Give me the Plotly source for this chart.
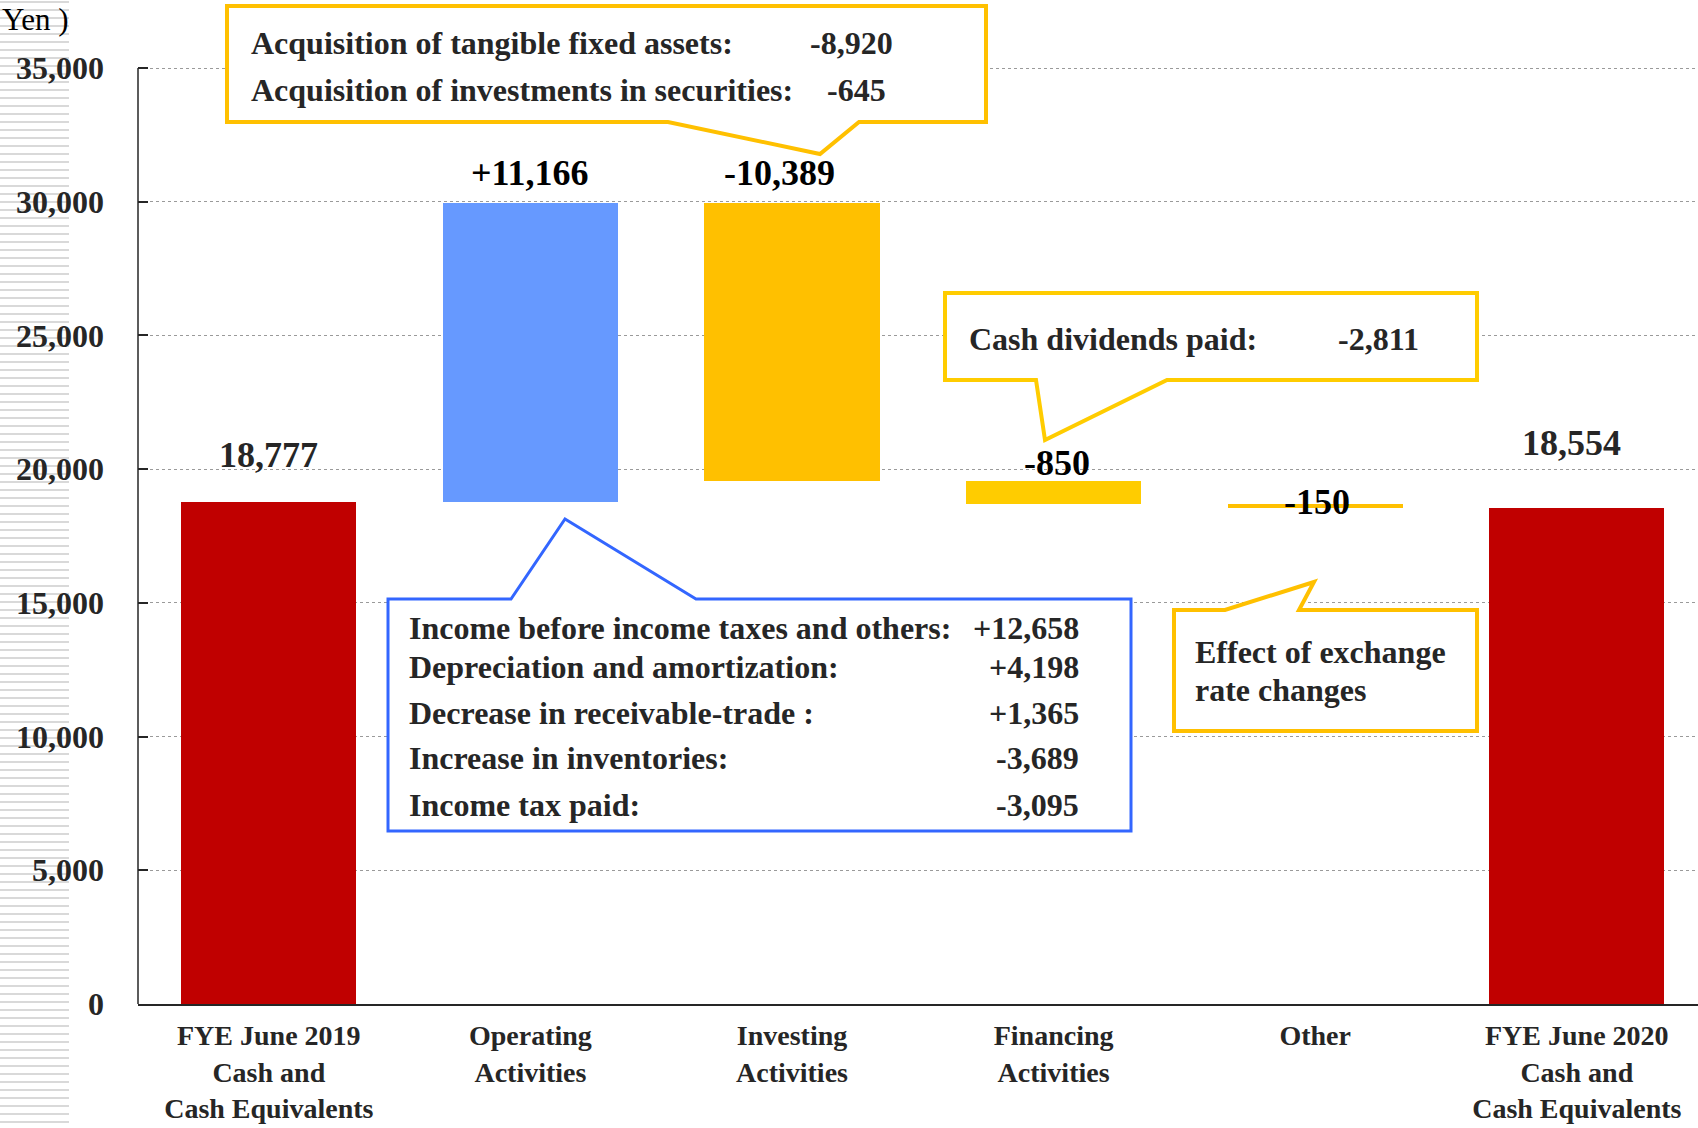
import numpy as np
import plotly.graph_objects as go

# ---------------- data ----------------
categories = ["FYE June 2019<br>Cash and<br>Cash Equivalents",
              "Operating<br>Activities",
              "Investing<br>Activities",
              "Financing<br>Activities",
              "Other",
              "FYE June 2020<br>Cash and<br>Cash Equivalents"]
start_balance = 18777
changes = [11166, -10389, -850, -150]
end_balance = 18554
value_labels = ["18,777", "+11,166", "-10,389", "-850", "-150", "18,554"]
bar_colors = ["#C00000", "#6699FF", "#FFC000", "#FFCC00", "#FFC000", "#C00000"]
label_colors = ["#262626", "#000000", "#000000", "#000000", "#000000", "#262626"]
# label offsets (px) relative to bar top
label_dx = [0, 0, -13, 3, 2, -5]
label_dy = [47, 30, 30, 18, 2, 65]

y_ticks = [0, 5000, 10000, 15000, 20000, 25000, 30000, 35000]
y_ticktext = ["0", "5,000", "10,000", "15,000", "20,000", "25,000", "30,000", "35,000"]

investing_items = ["Acquisition of tangible fixed assets:",
                   "Acquisition of investments in securities:"]
investing_values = ["-8,920", "-645"]
operating_items = ["Income before income taxes and others:",
                   "Depreciation and amortization:",
                   "Decrease in receivable-trade :",
                   "Increase in inventories:",
                   "Income tax paid:"]
operating_values = ["+12,658", "+4,198", "+1,365", "-3,689", "-3,095"]
financing_items = ["Cash dividends paid:"]
financing_values = ["-2,811"]
other_note = ["Effect of exchange", "rate changes"]

# ---------------- computed bars ----------------
cum = np.concatenate([[start_balance], start_balance + np.cumsum(changes)])
bases = [0] + list(cum[:-1][:len(changes)]) + [0]
heights = [start_balance] + changes + [end_balance]
tops = [b + max(h, 0) for b, h in zip(bases, heights)]
xs = list(range(len(categories)))

# ---------------- layout geometry ----------------
W, H = 1698, 1128
ML, MR, MT, MB = 138, 0, 0, 124
PW, PH = W - ML - MR, H - MT - MB
CAT_W = 261.6
YSCALE = 936 / 35000.0  # px per unit
YMAX = PH / YSCALE
XMAX = -0.5 + PW / CAT_W

FONT = "Liberation Serif, Times New Roman, serif"


def px(x):
    return (x - ML) / PW


def py(y):
    return (MT + PH - y) / PH


fig = go.Figure()
fig.add_trace(go.Bar(x=xs, y=heights, base=bases, width=0.67,
                     marker=dict(color=bar_colors, line=dict(width=0)),
                     hoverinfo="skip", showlegend=False))

annotations = []
for i in xs:
    annotations.append(dict(x=i, y=tops[i], xref="x", yref="y", text="<b>%s</b>" % value_labels[i],
                            showarrow=False, xanchor="center", yanchor="middle",
                            xshift=label_dx[i], yshift=label_dy[i],
                            font=dict(family=FONT, size=36, color=label_colors[i])))

shapes = []

# left decorative stripes
stripe_path = ""
for k in range(141):
    yy = 2 + 8 * k
    stripe_path += "M%.5f,%.5f L%.5f,%.5f " % (px(0), py(yy), px(69), py(yy))
shapes.append(dict(type="path", xref="paper", yref="paper", path=stripe_path,
                   line=dict(color="#D9D9D9", width=2), layer="below"))

# y axis line (0 .. 35,000)
shapes.append(dict(type="line", xref="paper", yref="paper", x0=0, x1=0,
                   y0=0, y1=35000 / YMAX, line=dict(color="#262626", width=1.5)))


def callout(points, color, width):
    p = "M" + " L".join("%.5f,%.5f" % (px(a), py(b)) for a, b in points) + " Z"
    shapes.append(dict(type="path", xref="paper", yref="paper", path=p,
                       fillcolor="white", line=dict(color=color, width=width), layer="above"))


def text(x, y, s, anchor="left", size=32, color="#262626", bold=True):
    annotations.append(dict(x=px(x), y=py(y), xref="paper", yref="paper",
                            text=("<b>%s</b>" % s) if bold else s, showarrow=False,
                            xanchor=anchor, yanchor="middle",
                            font=dict(family=FONT, size=size, color=color)))


# investing callout (top)
callout([(227, 6), (986, 6), (986, 122), (859, 122), (820, 154), (668, 122), (227, 122)], "#FFC000", 4)
for s, v, yy, xr in zip(investing_items, investing_values, [43, 90], [895, 888]):
    text(249, yy, s)
    text(xr, yy, v, anchor="right")

# financing callout
callout([(945, 293), (1477, 293), (1477, 380), (1167, 380), (1045, 440), (1036, 380), (945, 380)], "#FFCC00", 4)
text(967, 339, financing_items[0])
text(1421, 339, financing_values[0], anchor="right")

# operating callout (blue)
callout([(388, 599), (511, 599), (565, 519), (696, 599), (1131, 599), (1131, 831), (388, 831)], "#3366FF", 3)
for s, v, yy in zip(operating_items, operating_values, [628, 667, 713, 758, 805]):
    text(407, yy, s)
    text(1081, yy, v, anchor="right")

# other callout
callout([(1174, 610), (1225, 610), (1314, 582), (1299, 610), (1477, 610), (1477, 731), (1174, 731)], "#FFC000", 4)
for s, yy in zip(other_note, [652, 690]):
    text(1193, yy, s)

# unit label
text(0, 20, "Yen )", size=31, color="#000000", bold=False)

fig.update_layout(
    width=W, height=H,
    margin=dict(l=ML, r=MR, t=MT, b=MB, pad=0),
    paper_bgcolor="white", plot_bgcolor="white",
    shapes=shapes, annotations=annotations,
    bargap=0, showlegend=False,
    xaxis=dict(range=[-0.5, XMAX], tickmode="array", tickvals=xs,
               ticktext=["<b>%s</b>" % c for c in categories],
               showgrid=False, zeroline=False, showline=True, linecolor="#262626", linewidth=1.5,
               ticks="", tickfont=dict(family=FONT, size=28, color="#262626"),
               ticklabelstandoff=6, fixedrange=True),
    yaxis=dict(range=[0, YMAX], tickmode="array", tickvals=y_ticks,
               ticktext=["<b>%s</b>" % t for t in y_ticktext],
               showgrid=True, gridcolor="#9A9A9A", gridwidth=1, griddash="dot",
               zeroline=False, showline=False,
               ticks="inside", ticklen=10, tickcolor="#262626", tickwidth=1.5,
               tickfont=dict(family=FONT, size=32, color="#262626"),
               ticklabelstandoff=33, fixedrange=True),
)

fig.write_html("out.html", config={"displayModeBar": False})
